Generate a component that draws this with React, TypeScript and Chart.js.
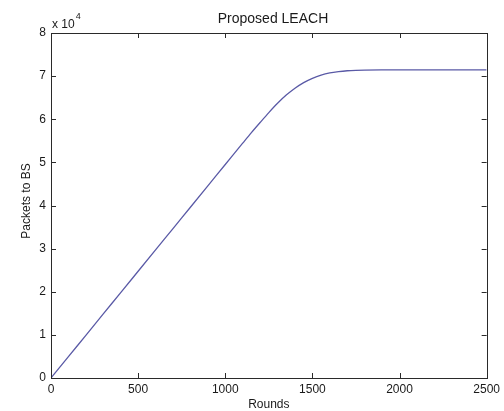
import React, { useEffect, useRef } from "react";
import { Chart, registerables } from "chart.js";

Chart.register(...registerables);

const rounds = [0, 100, 200, 300, 400, 500, 600, 700, 800, 900, 1000, 1100, 1150, 1200, 1250, 1300, 1350, 1400, 1450, 1500, 1550, 1600, 1650, 1700, 1750, 1800, 1900, 2000, 2200, 2500];
const packets = [0, 4950, 9900, 14850, 19800, 24750, 29700, 34650, 39600, 44550, 49500, 54450, 56900, 59250, 61550, 63700, 65600, 67200, 68500, 69500, 70250, 70750, 71050, 71250, 71350, 71400, 71430, 71430, 71430, 71430];
const xTicks = [0, 500, 1000, 1500, 2000, 2500];
const yTicks = [0, 10000, 20000, 30000, 40000, 50000, 60000, 70000, 80000];
const titleText = "Proposed LEACH";
const xLabel = "Rounds";
const yLabel = "Packets to BS";

const FONT = "'Liberation Sans', Arial, sans-serif";

const matlabPlugin = {
  id: "matlabBox",
  afterDraw(chart: any) {
    const ctx = chart.ctx;
    const a = chart.chartArea;
    const xs = chart.scales.x;
    const ys = chart.scales.y;
    ctx.save();
    ctx.strokeStyle = "#2a2a2a";
    ctx.lineWidth = 1;
    ctx.strokeRect(Math.round(a.left) + 0.5, Math.round(a.top) + 0.5, Math.round(a.right - a.left), Math.round(a.bottom - a.top));
    const tl = 5;
    ctx.beginPath();
    xTicks.forEach((v) => {
      const px = Math.round(xs.getPixelForValue(v)) + 0.5;
      ctx.moveTo(px, a.bottom);
      ctx.lineTo(px, a.bottom - tl);
      ctx.moveTo(px, a.top);
      ctx.lineTo(px, a.top + tl);
    });
    yTicks.forEach((v) => {
      const py = Math.round(ys.getPixelForValue(v)) + 0.5;
      ctx.moveTo(a.left, py);
      ctx.lineTo(a.left + tl, py);
      ctx.moveTo(a.right, py);
      ctx.lineTo(a.right - tl, py);
    });
    ctx.stroke();

    ctx.fillStyle = "#1a1a1a";
    ctx.font = `14px ${FONT}`;
    ctx.textAlign = "center";
    ctx.textBaseline = "alphabetic";
    ctx.fillText(titleText, 273, 23);

    ctx.font = `12px ${FONT}`;
    ctx.fillText(xLabel, (a.left + a.right) / 2, 408);

    ctx.save();
    ctx.translate(30, 201);
    ctx.rotate(-Math.PI / 2);
    ctx.fillText(yLabel, 0, 0);
    ctx.restore();

    ctx.textAlign = "left";
    ctx.font = `12px ${FONT}`;
    ctx.fillText("x 10", a.left + 1, 28);
    const w = ctx.measureText("x 10").width;
    ctx.font = `9px ${FONT}`;
    ctx.fillText("4", a.left + 1 + w + 1, 19);
    ctx.restore();
  },
};

export default function App() {
  const ref = useRef<HTMLCanvasElement | null>(null);
  useEffect(() => {
    if (!ref.current) return;
    const data = rounds.map((r, i) => ({ x: r, y: packets[i] }));
    const chart = new Chart(ref.current, {
      type: "line",
      data: {
        datasets: [
          {
            data,
            borderColor: "#5a5aa6",
            borderWidth: 1.3,
            pointRadius: 0,
            cubicInterpolationMode: "monotone",
            fill: false,
          },
        ],
      },
      options: {
        responsive: false,
        animation: false,
        layout: { padding: { top: 33, right: 17, left: 0, bottom: 0 } },
        plugins: { legend: { display: false }, title: { display: false }, tooltip: { enabled: false } },
        scales: {
          x: {
            type: "linear",
            min: 0,
            max: 2500,
            afterFit: (s: any) => { s.height = 33; },
            afterBuildTicks: (s: any) => { s.ticks = xTicks.map((v) => ({ value: v })); },
            grid: { display: false, drawTicks: false },
            border: { display: false },
            ticks: { padding: 4, color: "#1a1a1a", font: { family: FONT, size: 12 }, maxRotation: 0, callback: (v: any) => String(v) },
          },
          y: {
            type: "linear",
            min: 0,
            max: 80000,
            afterFit: (s: any) => { s.width = 51; },
            afterBuildTicks: (s: any) => { s.ticks = yTicks.map((v) => ({ value: v })); },
            grid: { display: false, drawTicks: false },
            border: { display: false },
            ticks: { padding: 5, color: "#1a1a1a", font: { family: FONT, size: 12 }, callback: (v: any) => String(v / 10000) },
          },
        },
      },
      plugins: [matlabPlugin],
    });
    return () => chart.destroy();
  }, []);
  return (
    <div style={{ position: "absolute", left: 0, top: 0, width: 504, height: 411, background: "#fff" }}>
      <canvas ref={ref} width={504} height={411} />
    </div>
  );
}
